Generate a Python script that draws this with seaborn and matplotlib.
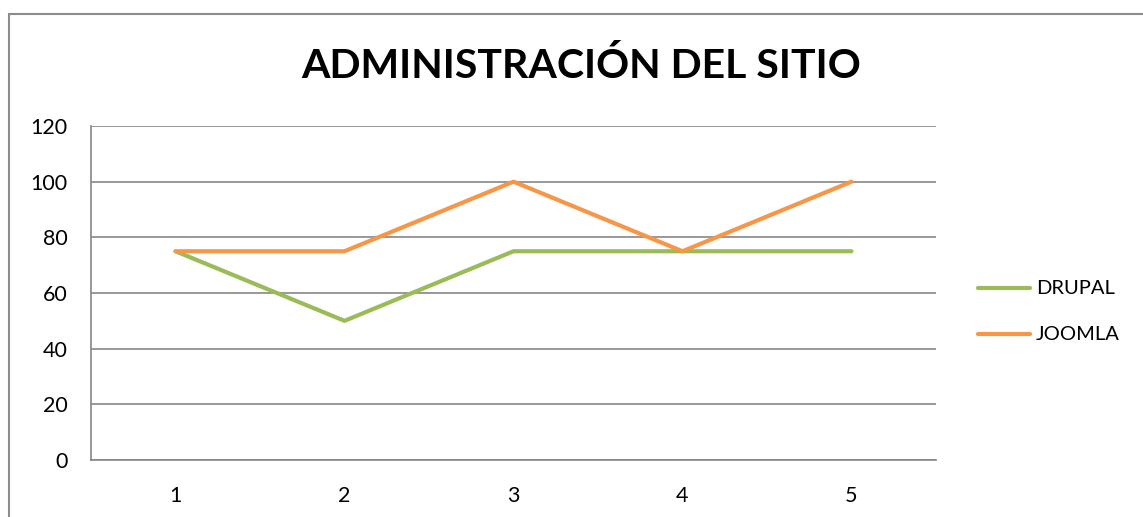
import numpy as np
import pandas as pd
import matplotlib.pyplot as plt
import seaborn as sns
from matplotlib.patches import Rectangle

categories = [1, 2, 3, 4, 5]
drupal = [75, 50, 75, 75, 75]
joomla = [75, 75, 100, 75, 100]
series_names = ["DRUPAL", "JOOMLA"]
colors = {"DRUPAL": "#9BBB59", "JOOMLA": "#F79646"}
yticks = [0, 20, 40, 60, 80, 100, 120]

df = pd.DataFrame({
    "x": categories * 2,
    "value": drupal + joomla,
    "serie": ["DRUPAL"] * len(drupal) + ["JOOMLA"] * len(joomla),
})

sns.set_style("white")
plt.rcParams["font.family"] = ["Lato", "DejaVu Sans"]
plt.rcParams["text.color"] = "black"

W, H = 1143, 517
fig = plt.figure(figsize=(W / 100, H / 100), dpi=100)
ax = fig.add_axes([91 / W, (H - 460) / H, (936 - 91) / W, (460 - 126) / H])

# outer chart border (cropped at right/bottom)
fig.patches.append(Rectangle((9 / W, -0.1), 1.2, (H - 14) / H + 0.1, transform=fig.transFigure,
                             fill=False, edgecolor="#8C8C8C", linewidth=1.5))

sns.lineplot(data=df, x="x", y="value", hue="serie", palette=colors, hue_order=series_names,
             linewidth=3, ax=ax, legend=False, zorder=3)

ax.set_xlim(0.5, 5.5)
ax.set_ylim(0, 120)
ax.set_yticks(yticks)
ax.set_xticks(categories)
ax.yaxis.grid(True, color="#868686", linewidth=1.2)
ax.set_axisbelow(True)
for s in ["top", "right"]:
    ax.spines[s].set_visible(False)
for s in ["left", "bottom"]:
    ax.spines[s].set_color("#868686")
    ax.spines[s].set_linewidth(1.2)
ax.tick_params(axis="both", length=0, labelsize=15.5, colors="black")
ax.tick_params(axis="y", pad=17)
ax.tick_params(axis="x", pad=19)
ax.set_xlabel("")
ax.set_ylabel("")

fig.text(581 / W, 1 - 66 / H, "ADMINISTRACIÓN DEL SITIO", ha="center", va="center",
         fontsize=29.5, fontweight="bold", color="black")

# legend drawn manually on the right
for i, name in enumerate(series_names):
    yy = 1 - (288 + 46 * i) / H
    fig.add_artist(plt.Line2D([978 / W, 1030 / W], [yy, yy], transform=fig.transFigure,
                              color=colors[name], linewidth=3))
    fig.text(1036 / W, yy, name, ha="left", va="center", fontsize=14.5, color="black")

fig.savefig("out.png", dpi=100)
